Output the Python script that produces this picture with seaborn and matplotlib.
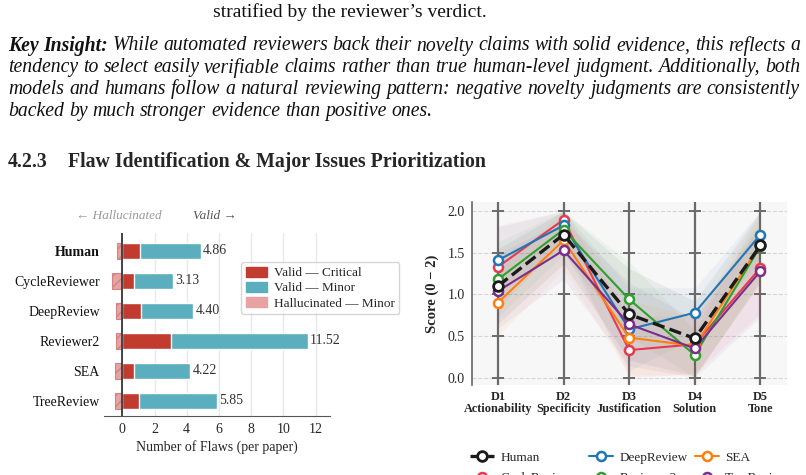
import numpy as np
import pandas as pd
import matplotlib
matplotlib.use("Agg")
import matplotlib.pyplot as plt
import seaborn as sns
from matplotlib.patches import Patch
from matplotlib.lines import Line2D

# ---- left panel: flaws per paper ----
reviewers = ["Human", "CycleReviewer", "DeepReview", "Reviewer2", "SEA", "TreeReview"]
valid_critical = [1.10, 0.70, 1.16, 3.03, 0.70, 1.04]
valid_total = [4.86, 3.13, 4.40, 11.52, 4.22, 5.85]
halluc_minor = [0.31, 0.62, 0.39, 0.41, 0.48, 0.46]

# ---- right panel: review quality dimensions ----
dims = ["D1\nActionability", "D2\nSpecificity", "D3\nJustification", "D4\nSolution", "D5\nTone"]
models = ["Human", "CycleReviewer", "DeepReview", "Reviewer2", "SEA", "TreeReview"]
human_scores = [1.10, 1.72, 0.76, 0.47, 1.59]
cycle_scores = [1.33, 1.90, 0.33, 0.40, 1.32]
deep_scores = [1.41, 1.83, 0.58, 0.78, 1.72]
r2_scores = [1.18, 1.78, 0.94, 0.27, 1.58]
sea_scores = [0.90, 1.65, 0.48, 0.38, 1.60]
tree_scores = [1.04, 1.53, 0.64, 0.35, 1.28]
human_sd = [0.45, 0.35, 0.55, 0.45, 0.45]
cycle_sd = [0.50, 0.25, 0.40, 0.35, 0.55]
deep_sd = [0.40, 0.30, 0.50, 0.30, 0.30]
r2_sd = [0.45, 0.30, 0.45, 0.30, 0.40]
sea_sd = [0.40, 0.35, 0.45, 0.35, 0.45]
tree_sd = [0.45, 0.35, 0.50, 0.35, 0.55]

para_lines = [
    "Key Insight: While automated reviewers back their novelty claims with solid evidence, this reflects a",
    "tendency to select easily verifiable claims rather than true human-level judgment. Additionally, both",
    "models and humans follow a natural reviewing pattern: negative novelty judgments are consistently",
    "backed by much stronger evidence than positive ones.",
]

CRIT = "#C23B2F"
MINOR = "#5AAEBE"
HALL = "#E8A2A2"
colors = ["#1a1a1a", "#E63A4E", "#1F77B4", "#2CA02C", "#FF7F0E", "#7B2D8E"]

sns.set_style("white")
plt.rcParams["font.family"] = ["Liberation Serif", "DejaVu Serif"]

W, H = 806, 475
fig = plt.figure(figsize=(W / 100, H / 100), dpi=100)
fx = lambda x: x / W
fy = lambda y: 1 - y / H

# ---- page text ----
fig.text(fx(350), fy(12), "stratified by the reviewer\u2019s verdict.", fontsize=14,
         ha="center", va="center", color="#111")

renderer = fig.canvas.get_renderer()
x0, x1 = 8, 800
for li, line in enumerate(para_lines):
    words = line.split(" ")
    ypos = fy(46 + li * 21.7)
    texts = []
    for wi, w in enumerate(words):
        st = "bold" if (li == 0 and wi < 2) else "normal"
        t = fig.text(0, ypos, w, fontsize=14.2, style="italic", fontweight=st,
                     ha="left", va="center", color="#111")
        texts.append(t)
    widths = [t.get_window_extent(renderer).width for t in texts]
    if li < len(para_lines) - 1:
        gap = (x1 - x0 - sum(widths)) / (len(words) - 1)
    else:
        gap = 5.0
    cur = x0
    for t, wd in zip(texts, widths):
        t.set_x(fx(cur))
        cur += wd + gap

fig.text(fx(8), fy(162), "4.2.3", fontsize=14.3, fontweight="bold", ha="left", va="center")
fig.text(fx(68), fy(162), "Flaw Identification & Major Issues Prioritization", fontsize=14.3,
         fontweight="bold", ha="left", va="center")

# ---- left chart ----
ax1 = fig.add_axes([fx(104), fy(416), 226 / W, 183 / H])
sns.barplot(x=valid_total, y=reviewers, orient="h", color=MINOR, width=0.52,
            saturation=1, errorbar=None, ax=ax1, zorder=3)
sns.barplot(x=valid_critical, y=reviewers, orient="h", color=CRIT, width=0.52,
            saturation=1, errorbar=None, ax=ax1, zorder=3)
sns.barplot(x=[-v for v in halluc_minor], y=reviewers, orient="h", color=HALL, width=0.52,
            saturation=1, errorbar=None, ax=ax1, zorder=3, hatch="///",
            edgecolor="#CF8585", linewidth=0.8)
ax1.axvline(0, color="#444", lw=1.4, zorder=4)
for i, t in enumerate(valid_total):
    ax1.text(t + 0.15, i, f"{t:.2f}", va="center", ha="left", fontsize=10, color="#333")
ax1.set_xlim(-1.14, 12.9)
ax1.set_ylim(5.5, -0.6)
ax1.set_xticks(range(0, 13, 2))
ax1.grid(axis="x", color="#e8e8e8", lw=1)
ax1.set_axisbelow(True)
for s in ["left", "top", "right"]:
    ax1.spines[s].set_visible(False)
ax1.spines["bottom"].set_color("#555")
ax1.tick_params(axis="y", length=0, pad=3, labelsize=10, labelcolor="#111")
ax1.tick_params(axis="x", length=3, color="#555", labelsize=10, pad=2)
ax1.set_ylabel("")
ax1.set_xlabel("Number of Flaws (per paper)", fontsize=10, labelpad=3)
ax1.get_yticklabels()[0].set_fontweight("bold")
ax1.text(-0.2, 1.093, "\u2190 Hallucinated", transform=ax1.get_xaxis_transform(),
         ha="center", va="center", fontsize=9.5, style="italic", color="#999")
ax1.text(5.77, 1.093, "Valid \u2192", transform=ax1.get_xaxis_transform(),
         ha="center", va="center", fontsize=9.5, style="italic", color="#555")
leg_handles = [Patch(facecolor=CRIT, edgecolor=CRIT), Patch(facecolor=MINOR, edgecolor=MINOR),
               Patch(facecolor=HALL, edgecolor=HALL)]
ax1.legend(leg_handles, ["Valid \u2014 Critical", "Valid \u2014 Minor", "Hallucinated \u2014 Minor"],
           loc="upper left", bbox_to_anchor=(0.606, 0.842), borderaxespad=0, fontsize=9.5,
           frameon=True, edgecolor="#cccccc", handlelength=1.6, handleheight=0.8,
           labelspacing=0.2, borderpad=0.35, handletextpad=0.55)

# ---- right chart ----
ax2 = fig.add_axes([fx(471.7), fy(385), 315 / W, 183.3 / H])
ax2.set_facecolor("#f7f7f7")
pos = np.arange(len(dims))
yt = np.arange(0, 2.01, 0.5)
for p in pos:
    ax2.axvline(p, color="#6b6b6b", lw=1.6, zorder=1)
    ax2.plot(np.full(len(yt), p), yt, ls="none", marker="_", ms=8, mew=1.4,
             color="#6b6b6b", zorder=1)

all_scores = [human_scores, cycle_scores, deep_scores, r2_scores, sea_scores, tree_scores]
all_sd = [human_sd, cycle_sd, deep_sd, r2_sd, sea_sd, tree_sd]
for name, vals, sd, col in zip(models, all_scores, all_sd, colors):
    v = np.array(vals)
    s = np.array(sd)
    ax2.fill_between(pos, np.clip(v - s, 0, 2), np.clip(v + s, 0, 2), color=col,
                     alpha=0.055, lw=0, zorder=2)
for name, vals, col in zip(models, all_scores, colors):
    if name == "Human":
        sns.lineplot(x=pos, y=vals, ax=ax2, color=col, lw=2.4, linestyle="--", marker="o",
                     markersize=7, markerfacecolor="white", markeredgecolor=col,
                     markeredgewidth=2, zorder=6)
    else:
        sns.lineplot(x=pos, y=vals, ax=ax2, color=col, lw=1.5, marker="o",
                     markersize=6.5, markerfacecolor="white", markeredgecolor=col,
                     markeredgewidth=1.8, zorder=5)
ax2.set_xlim(-0.4, 4.4)
ax2.set_ylim(-0.09, 2.115)
ax2.set_yticks(yt)
ax2.set_yticklabels([f"{v:.1f}" for v in yt])
ax2.set_xticks(pos)
ax2.set_xticklabels(dims, fontweight="bold", fontsize=8.8, linespacing=1.05)
ax2.grid(axis="y", ls="--", color="#d6d6d6", lw=0.8)
ax2.set_axisbelow(True)
for s in ["top", "right", "bottom"]:
    ax2.spines[s].set_visible(False)
ax2.spines["left"].set_color("#666")
ax2.spines["left"].set_linewidth(1.2)
ax2.tick_params(axis="both", length=0)
ax2.tick_params(axis="y", labelsize=10, pad=5)
ax2.tick_params(axis="x", pad=4)
ax2.set_ylabel("Score (0 \u2212 2)", fontsize=10.5, fontweight="bold", labelpad=6)

line_handles = []
for name, col in zip(models, colors):
    if name == "Human":
        line_handles.append(Line2D([], [], color=col, lw=2.4, ls="--", marker="o", ms=7,
                                   mfc="white", mec=col, mew=2))
    else:
        line_handles.append(Line2D([], [], color=col, lw=1.5, marker="o", ms=6.5,
                                   mfc="white", mec=col, mew=1.8))
fig.legend(line_handles, models, ncol=3, loc="upper left", bbox_to_anchor=(fx(458), fy(440)),
           frameon=False, fontsize=9.5, handlelength=1.8, handletextpad=0.5,
           columnspacing=0.55, labelspacing=0.6)

fig.savefig("out.png", dpi=100)
